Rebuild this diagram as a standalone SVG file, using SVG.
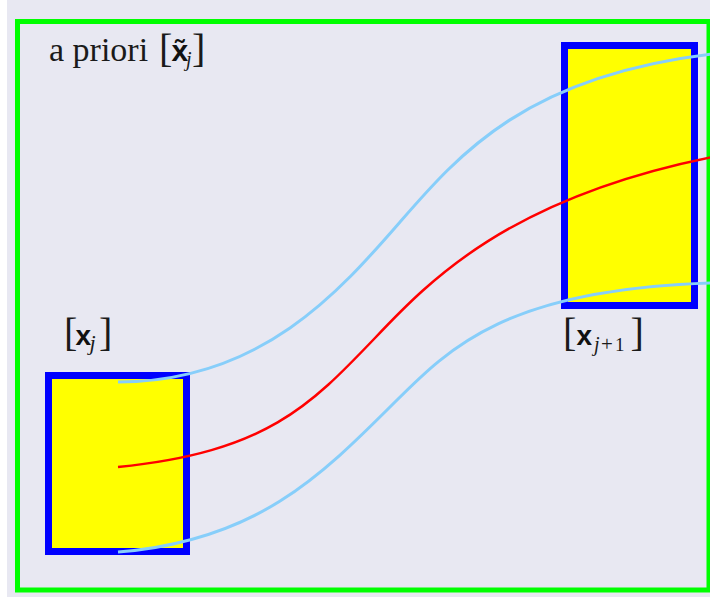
<svg xmlns="http://www.w3.org/2000/svg" width="710" height="597" viewBox="0 0 710 597">
<style>
.serif{font-family:"Liberation Serif","Times New Roman",serif;fill:#1a1a1a}
.bx{font-family:"Liberation Sans",Arial,sans-serif;font-weight:bold;font-style:normal;fill:#111}
.it{font-style:italic}
.box{fill:#ffff00;stroke:#0000ff;stroke-width:7}
.sd{fill:none;stroke:#87cefa;stroke-width:3}
.mid{fill:none;stroke:#ff0000;stroke-width:2.5}
</style>
<rect x="0" y="0" width="710" height="597" fill="#ffffff"/>
<rect x="7" y="0" width="703" height="597" fill="#e8e8f2"/>
<rect id="frame" x="17.5" y="21.5" width="691.5" height="568.5" fill="none" stroke="#00ff00" stroke-width="5"/>
<g id="title">
<text class="serif" x="49" y="61" font-size="34">a priori<tspan x="159" y="62" font-size="40">[</tspan><tspan class="bx" x="171.5" y="61" font-size="30">x̃</tspan><tspan class="it" x="186" y="66" font-size="20">j</tspan><tspan x="192" y="62" font-size="40">]</tspan></text>
</g>
<g id="node-xj">
<rect class="box" x="48.5" y="375.5" width="138" height="176"/>
<text class="serif" x="64" y="346" font-size="40">[<tspan class="bx" x="75.5" y="345" font-size="28">x</tspan><tspan class="it" x="89.5" y="350" font-size="22">j</tspan><tspan x="99" y="346" font-size="40">]</tspan></text>
</g>
<g id="node-xj1">
<rect class="box" x="564.5" y="45.5" width="130" height="260"/>
<text class="serif" x="563" y="346" font-size="40">[<tspan class="bx" x="576.5" y="345" font-size="28">x</tspan><tspan class="it" x="594" y="351" font-size="20">j</tspan><tspan x="601" y="351" font-size="21">+</tspan><tspan x="615" y="351" font-size="19">1</tspan><tspan x="630.5" y="346" font-size="40">]</tspan></text>
</g>
<g id="connectors">
<path class="sd" d="M118,382 C261,382 340,291 400,222 C460,153 527,76 712,54"/>
<path class="mid" d="M118,467 C266,452 310,406 375,338 C430,280 509,198 712,157"/>
<path class="sd" d="M118,552 C256,541 320,477 395,402 C450,347 508,289 712,283"/>
</g>
</svg>
